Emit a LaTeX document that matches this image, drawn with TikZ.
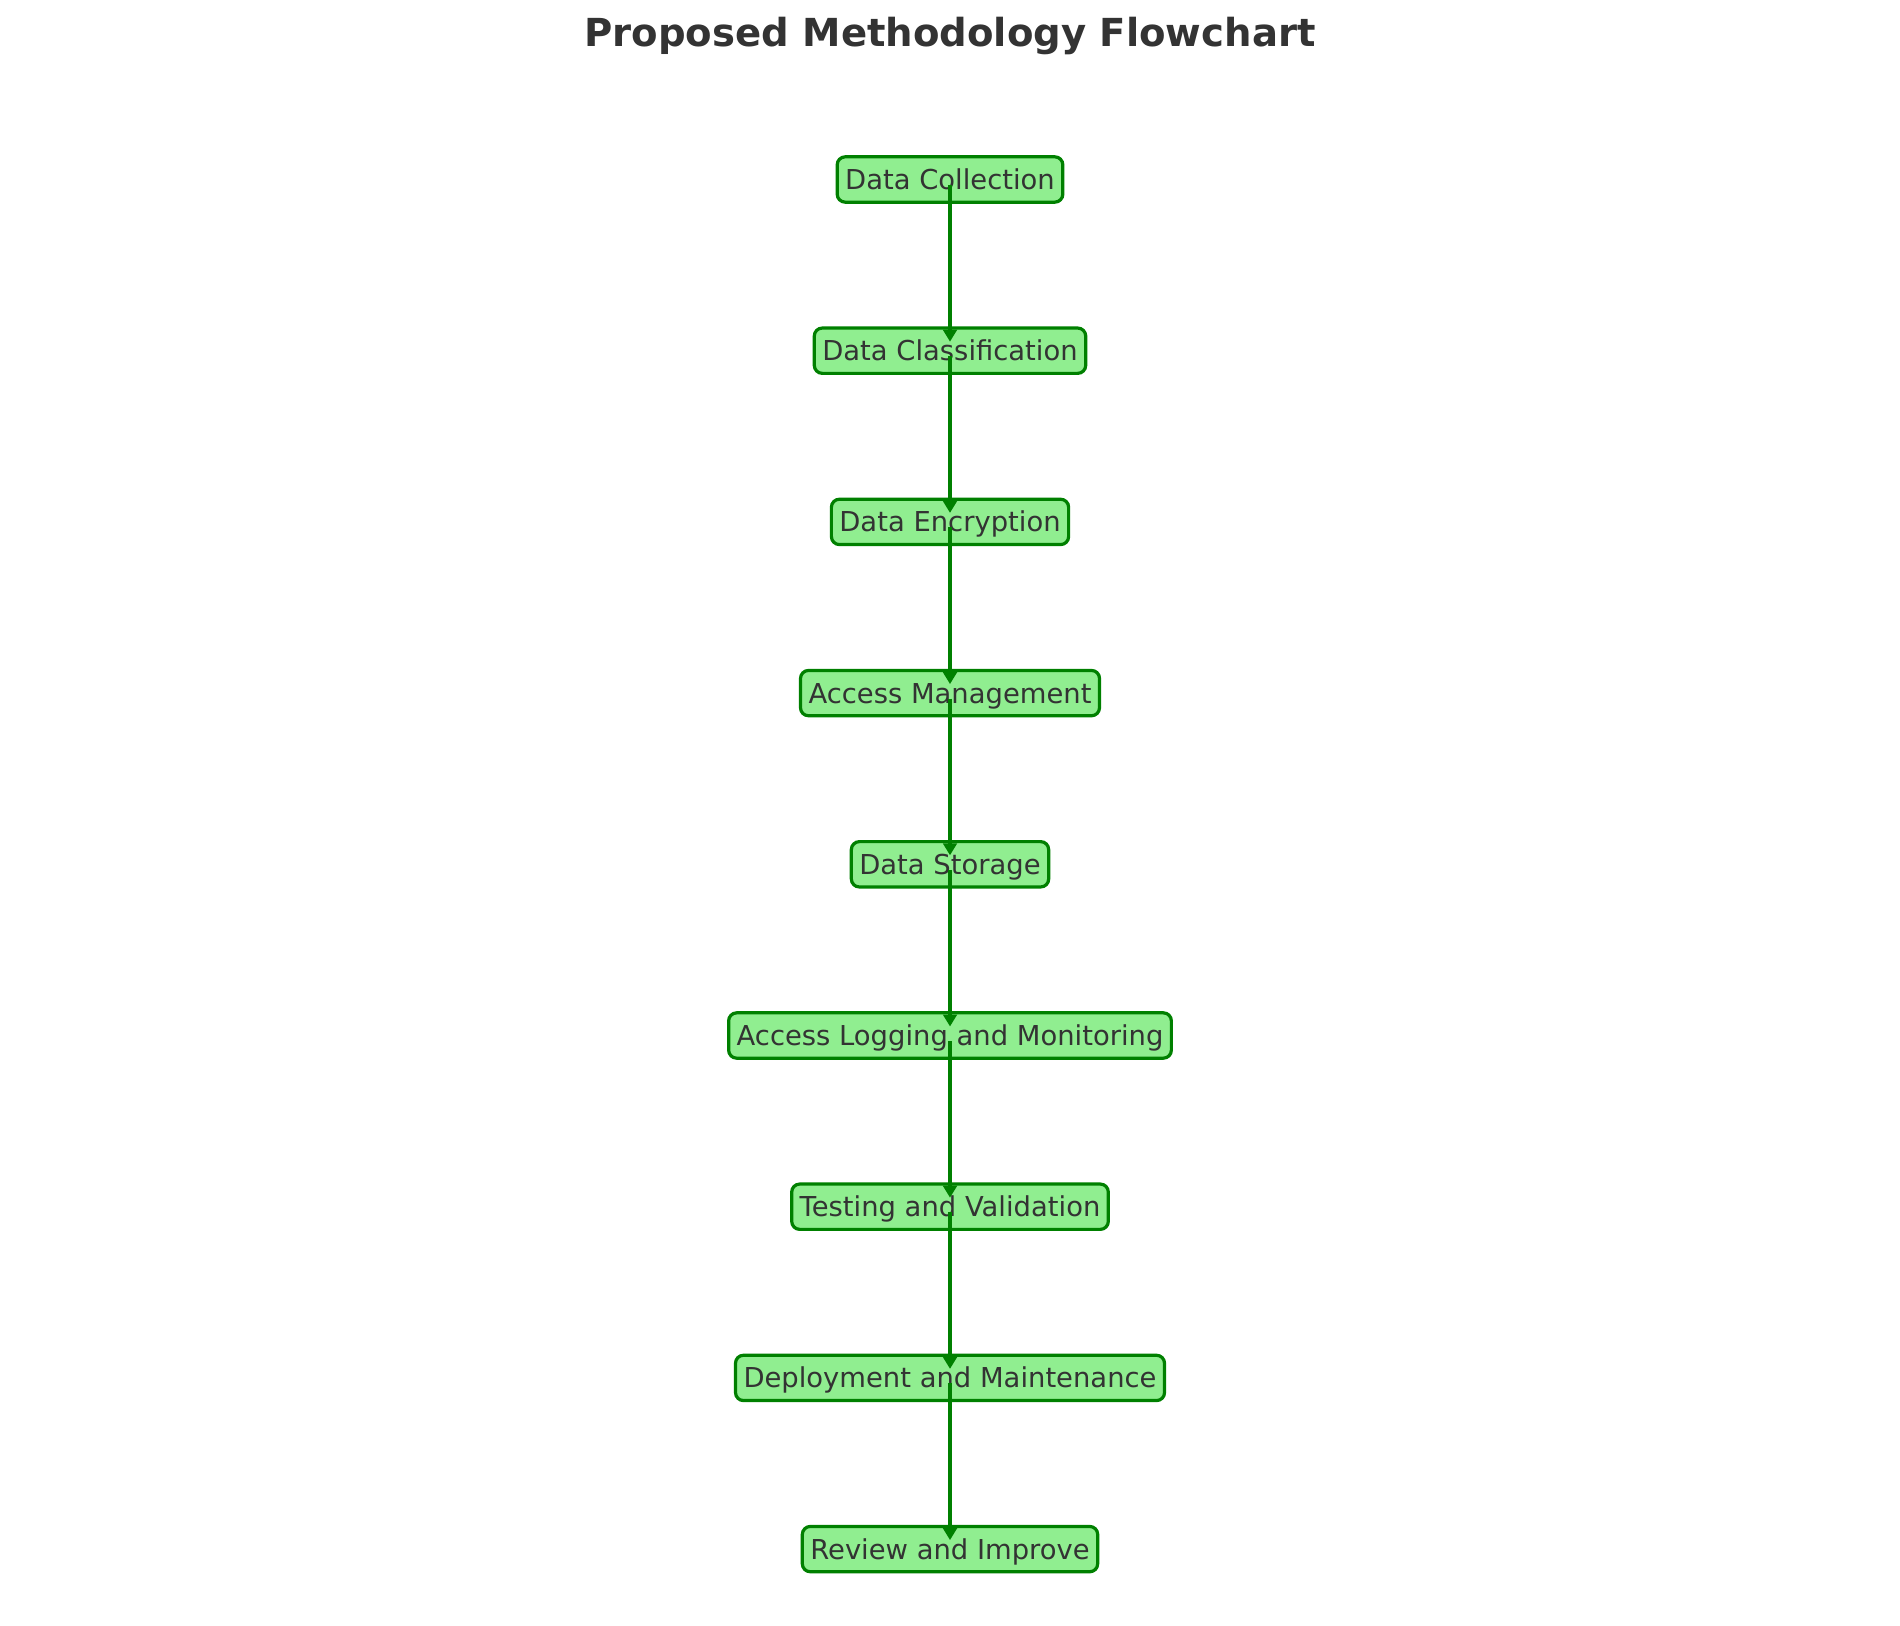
\documentclass[tikz,border=0pt]{standalone}
\usepackage{fontspec}
\setmainfont{DejaVu Sans}
\usetikzlibrary{arrows.meta}
\definecolor{boxfill}{HTML}{90EE90}
\definecolor{boxline}{HTML}{008000}
\definecolor{txt}{HTML}{333333}
\begin{document}
\begin{tikzpicture}[x=0.5pt,y=-0.5pt,
    stage/.style={draw=boxline, fill=boxfill, line width=1.6pt, rounded corners=4pt,
        text=txt, font=\fontsize{13.7}{16}\selectfont, inner xsep=4pt,
        minimum height=21pt, text height=13pt, text depth=3pt},
    flow/.style={draw=boxline, line width=2.3pt, -{Triangle[length=6pt,width=6.8pt]}}]
        \useasboundingbox (0,0) rectangle (1900,1626);
        \node[text=txt, font=\fontsize{19.3}{22}\selectfont\bfseries] (title) at (950,36) {Proposed Methodology Flowchart};

        % stages, top to bottom
        \foreach \name/\label [count=\i from 0] in {collect/Data Collection, classify/Data Classification,
            encrypt/Data Encryption, access/Access Management, store/Data Storage,
            logging/Access Logging and Monitoring, testing/Testing and Validation,
            deploy/Deployment and Maintenance, review/Review and Improve}
            \node[stage] (\name) at (950,179.5+171.2*\i) {\label};

        % arrows drawn over the boxes
        \foreach \a/\b in {collect/classify, classify/encrypt, encrypt/access, access/store,
            store/logging, logging/testing, testing/deploy, deploy/review}
            \draw[flow] ([yshift=-2.75pt]\a.center) -- ([yshift=4.5pt]\b.center);
    \end{tikzpicture}
\end{document}
